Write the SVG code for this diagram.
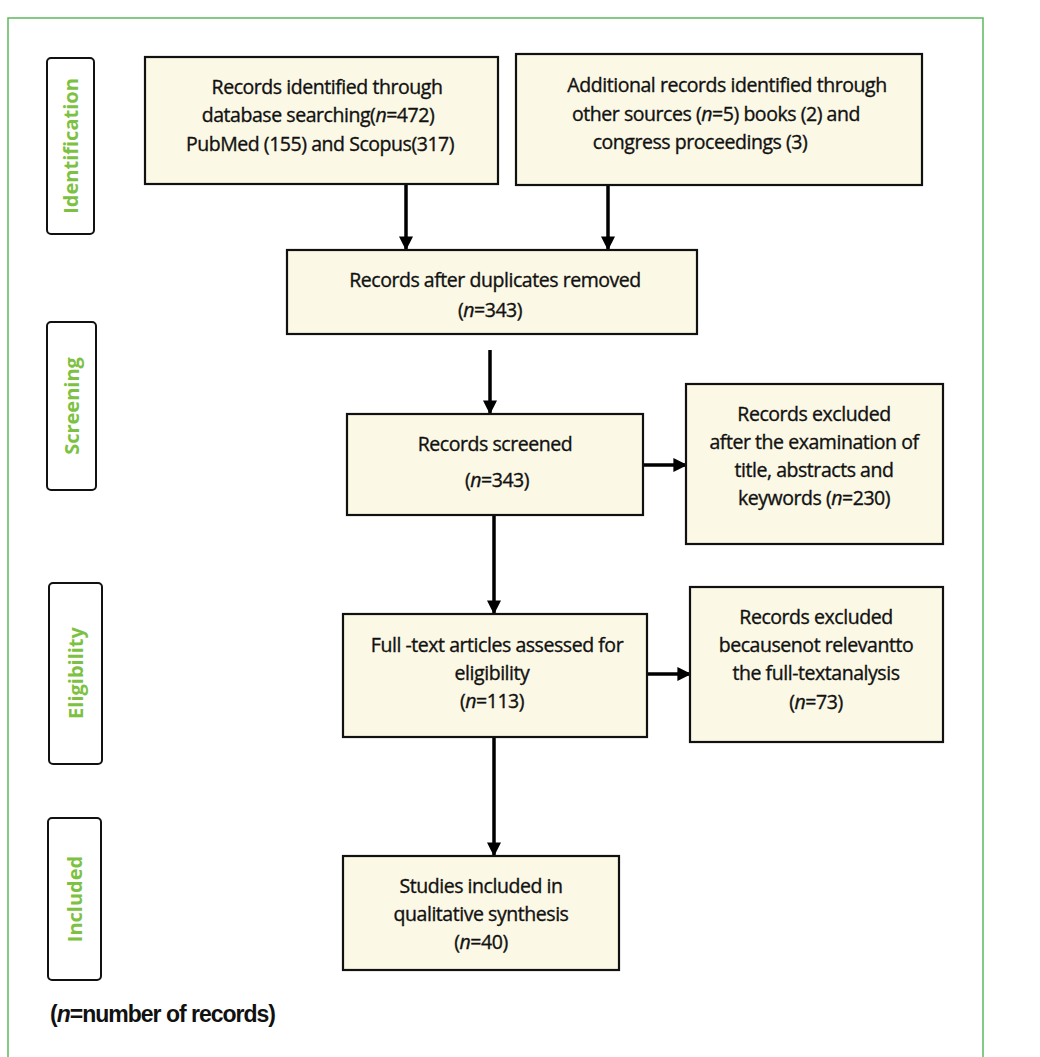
<svg xmlns="http://www.w3.org/2000/svg" width="1040" height="1057" viewBox="0 0 1040 1057">
<defs>
<style>
.box{fill:#fbf8e5;stroke:#111;stroke-width:2.2}
.side{fill:#fff;stroke:#111;stroke-width:2}
.t{font-family:"Open Sans","Liberation Sans",sans-serif;font-size:19.5px;fill:#111;stroke:#111;stroke-width:0.35;text-anchor:middle;letter-spacing:-0.45px}
.s{font-family:"Open Sans","Liberation Sans",sans-serif;font-size:20px;font-weight:bold;fill:#7dc142;text-anchor:middle}
.c{stroke:#000;stroke-width:3.5;fill:none}
</style>
<marker id="ah" viewBox="0 0 10 10" refX="9" refY="5" markerWidth="4" markerHeight="4" orient="auto" markerUnits="strokeWidth">
<path d="M0,0 L10,5 L0,10 z" fill="#000"/>
</marker>
</defs>
<rect x="0" y="0" width="1040" height="1057" fill="#fff"/>
<path d="M8,1057 V18 H983 V1057" fill="none" stroke="#5cb85c" stroke-width="1.5"/>

<g id="side-identification">
<rect class="side" x="47" y="58" width="47" height="176" rx="4"/>
<text class="s" transform="translate(78,146) rotate(-90)">Identification</text>
</g>
<g id="side-screening">
<rect class="side" x="47" y="322" width="49" height="168" rx="4"/>
<text class="s" transform="translate(79,406) rotate(-90)">Screening</text>
</g>
<g id="side-eligibility">
<rect class="side" x="49" y="583" width="53" height="181" rx="4"/>
<text class="s" transform="translate(83,673) rotate(-90)">Eligibility</text>
</g>
<g id="side-included">
<rect class="side" x="48" y="818" width="53" height="162" rx="4"/>
<text class="s" transform="translate(82,899) rotate(-90)">Included</text>
</g>

<g id="connectors">
<line class="c" x1="406" y1="184" x2="406" y2="249" marker-end="url(#ah)"/>
<line class="c" x1="608" y1="185" x2="608" y2="249" marker-end="url(#ah)"/>
<line class="c" x1="490" y1="350" x2="490" y2="413" marker-end="url(#ah)"/>
<line class="c" x1="643" y1="465" x2="686" y2="465" marker-end="url(#ah)"/>
<line class="c" x1="494" y1="515" x2="494" y2="613" marker-end="url(#ah)"/>
<line class="c" x1="643" y1="674" x2="690" y2="674" marker-end="url(#ah)"/>
<line class="c" x1="494" y1="737" x2="494" y2="855" marker-end="url(#ah)"/>
</g>

<g id="box-identified-db">
<rect class="box" x="145" y="57" width="353" height="127"/>
<text class="t" x="327" y="94">Records identified through</text>
<text class="t" x="318" y="122">database searching(<tspan font-style="italic">n</tspan>=472)</text>
<text class="t" x="320" y="151">PubMed (155) and Scopus(317)</text>
</g>
<g id="box-identified-other">
<rect class="box" x="516" y="54" width="406" height="131"/>
<text class="t" x="727" y="92">Additional records identified through</text>
<text class="t" x="716" y="121">other sources (<tspan font-style="italic">n</tspan>=5) books (2) and</text>
<text class="t" x="700" y="149">congress proceedings (3)</text>
</g>
<g id="box-duplicates">
<rect class="box" x="287" y="250" width="410" height="84"/>
<text class="t" x="495" y="287">Records after duplicates removed</text>
<text class="t" x="490" y="317">(<tspan font-style="italic">n</tspan>=343)</text>
</g>
<g id="box-screened">
<rect class="box" x="347" y="414" width="296" height="101"/>
<text class="t" x="495" y="451">Records screened</text>
<text class="t" x="497" y="487">(<tspan font-style="italic">n</tspan>=343)</text>
</g>
<g id="box-excluded-1">
<rect class="box" x="686" y="384" width="257" height="160"/>
<text class="t" x="814" y="421">Records excluded</text>
<text class="t" x="814" y="449">after the examination of</text>
<text class="t" x="814" y="477">title, abstracts and</text>
<text class="t" x="814" y="505">keywords (<tspan font-style="italic">n</tspan>=230)</text>
</g>
<g id="box-fulltext">
<rect class="box" x="343" y="614" width="304" height="123"/>
<text class="t" x="497" y="652">Full -text articles assessed for</text>
<text class="t" x="492" y="680">eligibility</text>
<text class="t" x="492" y="708">(<tspan font-style="italic">n</tspan>=113)</text>
</g>
<g id="box-excluded-2">
<rect class="box" x="690" y="587" width="253" height="155"/>
<text class="t" x="816" y="624">Records excluded</text>
<text class="t" x="816" y="652">becausenot relevantto</text>
<text class="t" x="816" y="680">the full-textanalysis</text>
<text class="t" x="816" y="709">(<tspan font-style="italic">n</tspan>=73)</text>
</g>
<g id="box-included">
<rect class="box" x="343" y="856" width="276" height="114"/>
<text class="t" x="481" y="893">Studies included in</text>
<text class="t" x="481" y="921">qualitative synthesis</text>
<text class="t" x="481" y="949">(<tspan font-style="italic">n</tspan>=40)</text>
</g>

<text x="50" y="1022" font-family="'Liberation Sans Narrow','Liberation Sans',sans-serif" font-size="23" font-weight="bold" fill="#111" letter-spacing="-1">(<tspan font-style="italic">n</tspan>=number of records)</text>
</svg>
